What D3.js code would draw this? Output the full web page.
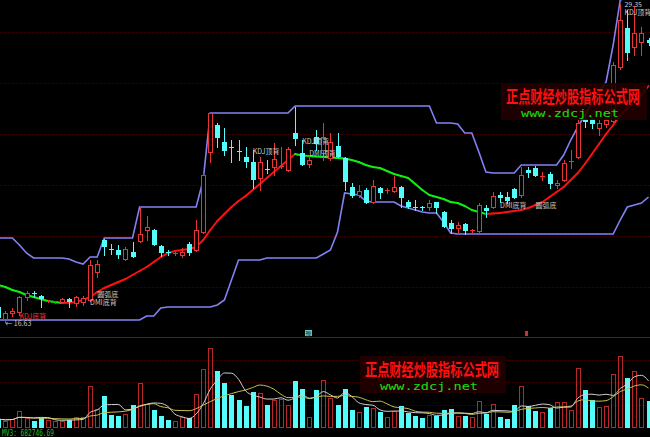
<!DOCTYPE html>
<html><head><meta charset="utf-8">
<script src="https://cdn.jsdelivr.net/npm/d3@7"></script>
<style>html,body{margin:0;padding:0;background:#000;overflow:hidden}svg{display:block}</style>
</head><body>
<svg id="c" width="650" height="437"></svg>
<script>
// candle index (k = -1 .. 91)
const idx = d3.range(-1, 92);
const open = [
 17.23,16.75,16.99,17.03,17.63,17.79,17.67,17.45,17.43,17.43,
 17.55,17.39,17.43,17.51,18.63,19.91,19.55,19.51,19.15,19.43,
 19.87,20.31,20.31,19.67,19.43,19.35,19.31,19.75,19.51,20.23,
 23.43,24.51,23.83,23.63,23.47,23.23,23.03,22.39,22.75,22.83,
 22.83,22.71,24.19,23.39,22.95,24.03,23.39,23.19,23.67,23.19,
 22.03,21.71,21.91,21.43,21.99,21.85,21.87,22.03,21.43,21.25,
 21.25,21.23,21.43,21.03,20.59,20.39,20.55,20.29,20.27,21.17,
 21.23,21.69,21.63,21.95,21.71,22.69,22.79,22.45,22.55,22.11,
 22.31,23.01,23.23,24.75,24.75,24.39,24.55,24.67,26.83,28.39,
 27.63,27.83,27.91];
const high = [
 17.31,17.07,17.19,17.67,17.87,17.87,17.71,17.51,17.47,17.59,
 17.59,17.67,17.67,19.11,19.11,19.95,19.75,19.71,19.63,19.83,
 21.23,20.87,20.35,19.71,19.51,19.43,19.59,19.83,20.71,22.59,
 24.99,24.59,24.39,23.91,23.91,23.63,23.51,23.23,23.11,23.79,
 23.63,23.63,25.23,23.91,23.31,24.31,24.59,24.19,24.19,23.23,
 22.19,22.11,21.99,22.31,22.03,21.99,22.47,22.07,21.51,21.51,
 21.27,21.51,21.43,21.07,20.71,20.63,20.59,20.35,21.39,21.31,
 21.83,21.83,21.83,21.99,22.83,22.83,22.87,22.63,22.63,22.31,
 23.11,23.51,24.71,24.95,24.79,24.71,24.79,27.03,29.35,29.11,
 29.27,28.43,27.99];
const low = [
 16.79,16.63,16.87,16.91,17.51,17.63,17.23,17.43,17.39,17.39,
 17.23,17.27,17.31,17.47,18.43,19.31,19.35,19.19,19.11,19.23,
 19.83,19.91,19.71,19.27,19.31,19.31,19.23,19.31,19.47,20.19,
 23.03,23.63,23.31,23.03,23.11,22.83,21.99,21.91,22.59,22.51,
 22.79,22.67,23.71,22.91,22.83,23.51,23.11,23.11,23.23,21.91,
 21.63,21.63,21.39,21.39,21.59,21.79,21.83,21.23,21.19,21.11,
 21.11,21.11,20.99,20.43,20.19,20.23,20.15,20.23,20.23,20.83,
 21.19,21.43,21.39,21.59,21.63,22.43,22.47,22.31,21.99,21.99,
 22.27,22.79,23.19,24.43,24.39,24.11,24.43,24.63,26.75,27.11,
 27.31,27.31,27.71];
const close = [
 16.83,16.99,17.07,17.63,17.79,17.75,17.59,17.49,17.47,17.55,
 17.47,17.63,17.59,18.91,18.95,19.67,19.51,19.35,19.55,19.27,
 20.15,20.43,19.75,19.43,19.39,19.39,19.43,19.43,20.31,22.51,
 24.99,24.03,23.51,23.59,23.43,23.07,22.35,23.03,22.71,23.15,
 22.87,23.55,23.99,22.95,23.11,23.79,24.03,23.83,23.27,22.27,
 21.71,21.87,21.43,22.07,21.83,21.89,22.03,21.63,21.27,21.21,
 21.21,21.39,21.23,20.47,20.39,20.51,20.31,20.33,21.31,21.13,
 21.67,21.65,21.51,21.63,22.51,22.65,22.51,22.49,22.19,22.19,
 22.99,23.05,24.59,24.67,24.59,24.59,24.71,26.91,28.71,27.43,
 28.19,28.19,27.83];
const volume = [ // thousands
 163,132,163,312,181,121,181,150,121,121,
 139,199,199,753,343,583,240,211,258,421,
 813,439,330,222,139,121,199,181,619,1066,
 1445,1024,813,601,511,403,645,632,421,511,
 524,421,843,704,199,681,861,542,421,704,
 330,284,379,361,284,199,302,392,271,222,
 181,240,222,320,349,222,222,193,482,258,
 439,199,168,421,764,392,302,284,361,464,
 464,325,1084,681,500,379,403,981,1306,903,
 1024,542,482];
const trendMA = [
 18.11,18.03,17.91,17.83,17.71,17.63,17.55,17.47,17.43,17.39,
 17.40,17.43,17.51,17.63,17.83,17.99,18.11,18.23,18.35,18.51,
 18.67,18.83,19.03,19.23,19.39,19.47,19.51,19.55,19.63,19.91,
 20.31,20.67,20.95,21.23,21.47,21.67,21.91,22.15,22.39,22.63,
 22.87,23.11,23.35,23.29,23.27,23.25,23.23,23.21,23.19,23.17,
 23.11,23.03,22.91,22.83,22.79,22.67,22.55,22.47,22.39,22.15,
 21.91,21.71,21.63,21.55,21.43,21.39,21.27,21.11,21.03,20.95,
 20.97,20.99,21.03,21.07,21.11,21.19,21.31,21.43,21.63,21.83,
 22.03,22.31,22.59,22.95,23.35,23.75,24.15,24.51,24.87,25.19,
 25.39,25.71,26.07];
const upperBand = [
 19.99,19.99,19.99,19.71,19.39,19.19,19.19,19.19,19.19,19.19,
 19.15,19.03,18.95,19.23,19.23,19.99,19.99,19.99,19.99,19.99,
 21.23,21.23,21.23,21.23,21.23,21.23,21.23,21.23,21.23,22.31,
 24.99,24.99,24.99,24.99,24.99,24.99,24.99,24.99,24.99,24.99,
 24.99,24.99,25.27,25.27,25.27,25.27,25.27,25.27,25.27,25.27,
 25.27,25.27,25.27,25.27,25.27,25.27,25.27,25.27,25.27,25.27,
 25.27,25.27,24.59,24.59,24.59,24.55,24.19,24.19,23.43,22.63,
 22.59,22.59,22.59,22.59,22.91,22.91,22.91,22.91,22.91,22.91,
 23.31,23.91,24.43,24.91,25.39,25.79,26.23,27.71,29.51,29.60,
 29.60,29.60,29.60];
const lowerBand = [
 16.71,16.71,16.71,16.71,16.71,16.71,16.71,16.71,16.71,16.71,
 16.71,16.71,16.71,16.71,16.71,16.71,16.71,16.71,16.71,16.71,
 16.71,16.87,16.87,17.19,17.23,17.23,17.23,17.23,17.23,17.23,
 17.23,17.31,17.51,18.31,19.11,19.11,19.11,19.11,19.19,19.19,
 19.19,19.19,19.19,19.19,19.19,19.19,19.35,19.51,20.23,21.79,
 21.75,21.71,21.47,21.43,21.43,21.43,21.43,21.27,21.19,21.11,
 21.03,20.99,20.99,20.63,20.19,20.15,20.15,20.15,20.15,20.15,
 20.15,20.15,20.15,20.15,20.15,20.15,20.15,20.15,20.15,20.15,
 20.15,20.15,20.15,20.15,20.15,20.15,20.15,20.15,20.71,21.23,
 21.31,21.39,21.63];
const priceGrid = [18.03,20.07,22.11,24.15,26.19,28.23];
const volGrid = [411,822,1232];
const annotations = [
 {text:'KDJ底背', i:2,  p:16.75, c:'#ff3030'},
 {text:'\u2190 16.63', i:0, p:16.49, c:'#c8c8c8'},
 {text:'圆弧底', i:13, p:17.65, c:'#c8c8c8'},
 {text:'DMI底背', i:12, p:17.31, c:'#c8c8c8'},
 {text:'KDJ顶背', i:35, p:23.35, c:'#c8c8c8'},
 {text:'KDJ顶背', i:42, p:23.75, c:'#c8c8c8'},
 {text:'DMI顶背', i:43, p:23.27, c:'#c8c8c8'},
 {text:'DMI底背', i:70, p:21.19, c:'#c8c8c8'},
 {text:'圆弧底', i:75, p:21.19, c:'#c8c8c8'},
 {text:'29.35', i:87.6, p:29.25, c:'#c8c8c8'},
 {text:'KDJ顶背', i:87.6, p:28.93, c:'#c8c8c8'}
];
const mvLabel = 'MV3: 682746.69';
const watermarkCN = '正点财经炒股指标公式网';
const watermarkURL = 'www.zdcj.net';

const UP = '#e83434', DOWN = '#54fcfc', VUP = '#b82828';
const svg = d3.select('#c');
svg.append('rect').attr('width',650).attr('height',437).attr('fill','#000');

const xc = d3.scaleLinear().domain([-1, 91]).range([-1.768, 648.5]);
const yP = d3.scaleLinear().domain([29.51, 16.15]).range([0, 334]);
const yV = d3.scaleLinear().domain([0, 1643]).range([428, 337]);

svg.append('defs').append('clipPath').attr('id','cp')
  .append('rect').attr('x',0).attr('y',0).attr('width',650).attr('height',336);

// grid
svg.append('g').selectAll('line').data(priceGrid).join('line')
  .attr('x1',0).attr('x2',650)
  .attr('y1',d=>Math.round(yP(d))+0.5).attr('y2',d=>Math.round(yP(d))+0.5)
  .attr('stroke','#300000').attr('stroke-dasharray','3,1');
svg.append('g').selectAll('line').data(volGrid).join('line')
  .attr('x1',0).attr('x2',650)
  .attr('y1',d=>Math.round(yV(d))+0.5).attr('y2',d=>Math.round(yV(d))+0.5)
  .attr('stroke','#300000').attr('stroke-dasharray','3,1');

// separator
svg.append('line').attr('x1',0).attr('x2',650).attr('y1',337.5).attr('y2',337.5)
  .attr('stroke','#a00000');

const up = svg.append('g').attr('clip-path','url(#cp)');

// bands
const bandLine = arr => d3.line().x((d,j)=>xc(idx[j])).y(d=>yP(d))(arr);
up.append('path').attr('d',bandLine(upperBand)).attr('fill','none')
  .attr('stroke','#8282f5').attr('stroke-width',1.6);
up.append('path').attr('d',bandLine(lowerBand)).attr('fill','none')
  .attr('stroke','#8282f5').attr('stroke-width',1.6);

// trend MA coloured by slope
const segs = d3.range(trendMA.length-1).map(j=>({j, rising: trendMA[j+1] >= trendMA[j]}));
up.append('g').selectAll('line').data(segs).join('line')
  .attr('x1',d=>xc(idx[d.j])).attr('x2',d=>xc(idx[d.j+1]))
  .attr('y1',d=>yP(trendMA[d.j])).attr('y2',d=>yP(trendMA[d.j+1]))
  .attr('stroke',d=>d.rising?'#ff1010':'#10f010').attr('stroke-width',2)
  .attr('stroke-linecap','round');

// candles
const cg = up.append('g');
idx.forEach((k,j)=>{
  const o=open[j], c=close[j], h=high[j], l=low[j];
  const cx = Math.round(xc(k));
  const isUp = c >= o;
  const col = isUp ? UP : DOWN;
  const yt = Math.round(yP(Math.max(o,c))), yb = Math.round(yP(Math.min(o,c)));
  const yh = Math.round(yP(h)), yl = Math.round(yP(l));
  if (yb - yt <= 1) {
    cg.append('line').attr('x1',cx+0.5).attr('x2',cx+0.5).attr('y1',yh).attr('y2',yl+1).attr('stroke',col);
    cg.append('rect').attr('x',cx-2).attr('y',yt).attr('width',5).attr('height',1).attr('fill',col);
  } else if (isUp) {
    cg.append('line').attr('x1',cx+0.5).attr('x2',cx+0.5).attr('y1',yh).attr('y2',yt).attr('stroke',col);
    cg.append('line').attr('x1',cx+0.5).attr('x2',cx+0.5).attr('y1',yb).attr('y2',yl+1).attr('stroke',col);
    cg.append('rect').attr('x',cx-1.5).attr('y',yt+0.5).attr('width',4).attr('height',yb-yt)
      .attr('fill','#000').attr('stroke',col);
  } else {
    cg.append('line').attr('x1',cx+0.5).attr('x2',cx+0.5).attr('y1',yh).attr('y2',yl+1).attr('stroke',col);
    cg.append('rect').attr('x',cx-2).attr('y',yt).attr('width',5).attr('height',yb-yt+1).attr('fill',col);
  }
});

// volume bars
const vg = svg.append('g');
idx.forEach((k,j)=>{
  const cx = Math.round(xc(k));
  const isUp = close[j] >= open[j];
  const yt = Math.round(yV(volume[j]));
  if (isUp) {
    vg.append('rect').attr('x',cx-1.5).attr('y',yt+0.5).attr('width',4).attr('height',428-yt-1)
      .attr('fill','none').attr('stroke',VUP);
  } else {
    vg.append('rect').attr('x',cx-2).attr('y',yt).attr('width',5).attr('height',428-yt).attr('fill',DOWN);
  }
});
const mavg = (arr,n)=>arr.map((_,j)=>d3.mean(arr.slice(Math.max(0,j-n+1),j+1)));
const vLine = d3.line().x((d,j)=>xc(idx[j])).y(d=>yV(d)).curve(d3.curveMonotoneX);
svg.append('path').attr('d',vLine(mavg(volume,10))).attr('fill','none').attr('stroke','#c8c050').attr('stroke-width',1);
svg.append('path').attr('d',vLine(mavg(volume,5))).attr('fill','none').attr('stroke','#d0d0d0').attr('stroke-width',1);

// event markers on separator
svg.append('rect').attr('x',305).attr('y',330).attr('width',7).attr('height',6).attr('fill','#5ad0d0');
svg.append('text').attr('x',308.5).attr('y',335.5).attr('text-anchor','middle')
  .attr('font-family','Noto Sans CJK SC').attr('font-size',6).attr('fill','#204040').text('豫');
svg.append('rect').attr('x',525).attr('y',331).attr('width',3).attr('height',5).attr('fill','#d03030');

// annotations
svg.append('g').selectAll('text').data(annotations).join('text')
  .attr('x',d=>xc(d.i)).attr('y',d=>yP(d.p))
  .attr('font-family','"Noto Sans CJK SC","DejaVu Sans",sans-serif').attr('font-size',7)
  .attr('fill',d=>d.c).text(d=>d.text);

// MV3 label
svg.append('text').attr('x',2).attr('y',436).attr('font-family','"DejaVu Sans Mono",monospace')
  .attr('font-size',8).attr('textLength',52).attr('lengthAdjust','spacingAndGlyphs')
  .attr('fill','#20c020').text(mvLabel);

// watermarks
function watermark(x0,y0){
  const g=svg.append('g');
  g.append('rect').attr('x',x0).attr('y',y0).attr('width',146).attr('height',37).attr('fill','#220000').attr('opacity',0.9);
  g.append('text').attr('x',x0+5).attr('y',y0+20).attr('font-family','"Noto Sans CJK SC"').attr('font-size',17)
    .attr('font-weight','bold')
    .attr('textLength',134).attr('lengthAdjust','spacingAndGlyphs').attr('fill','#ff1010').text(watermarkCN);
  g.append('text').attr('x',x0+20).attr('y',y0+34).attr('font-family','"DejaVu Sans Mono",monospace').attr('font-size',11)
    .attr('textLength',98).attr('lengthAdjust','spacingAndGlyphs').attr('fill','#10e010').text(watermarkURL);
}
watermark(501,83);
watermark(360,356);
</script>
</body></html>
